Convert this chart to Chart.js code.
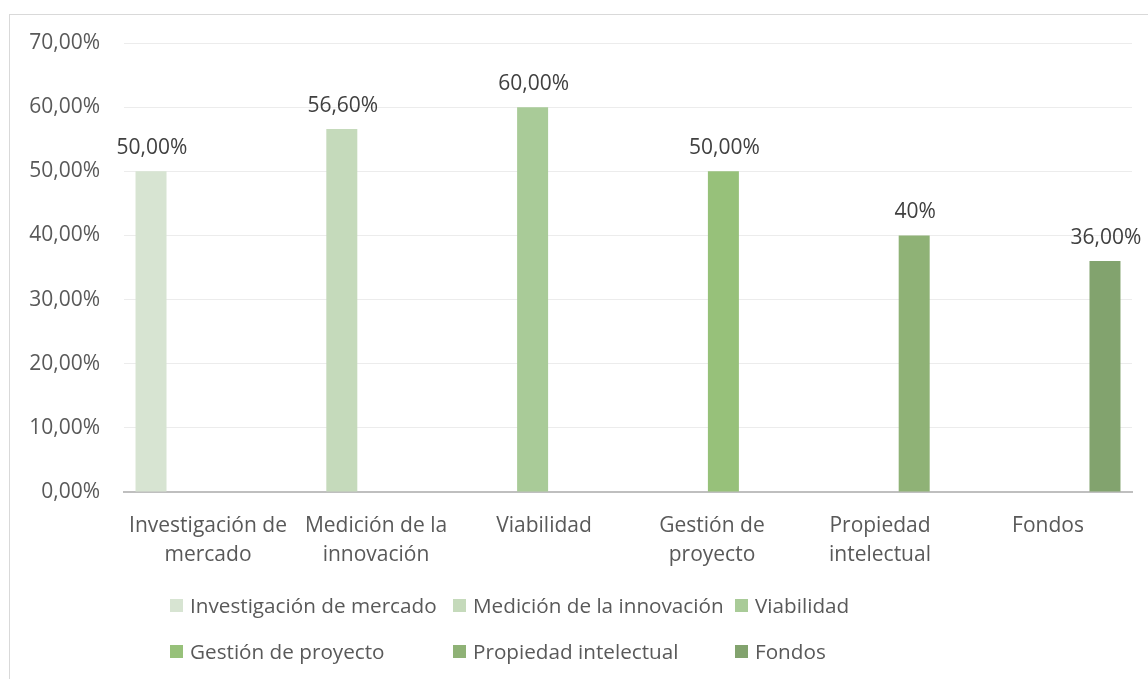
<!DOCTYPE html>
<html lang="es">
<head>
<meta charset="utf-8">
<title>Áreas de apoyo</title>
<script src="https://cdn.jsdelivr.net/npm/chart.js@4.4.1/dist/chart.umd.min.js"></script>
<style>
  html, body { margin: 0; padding: 0; background: #fff; overflow: hidden; }
  #wrap { position: relative; width: 1148px; height: 679px; }
  #frame {
    position: absolute; left: 9px; top: 14px; width: 1200px; height: 700px;
    border: 1px solid #d9d9d9; box-sizing: border-box; pointer-events: none;
  }
  #legend {
    position: absolute; left: 170px; top: 582px;
    display: grid; grid-template-columns: 283px 282px auto; grid-auto-rows: 46px;
    font-family: "Open Sans", sans-serif; font-size: 20.7px; color: #595959;
  }
  #legend .item { display: flex; align-items: center; white-space: nowrap; }
  #legend .box { width: 13px; height: 13px; margin-right: 7px; flex: none; }
</style>
</head>
<body>
<div id="wrap">
  <canvas id="barChart"></canvas>
  <div id="frame"></div>
  <div id="legend"></div>
</div>
<script>
const categories = [
  ['Investigación de', 'mercado'],
  ['Medición de la', 'innovación'],
  'Viabilidad',
  ['Gestión de', 'proyecto'],
  ['Propiedad', 'intelectual'],
  'Fondos'
];
const seriesNames = [
  'Investigación de mercado',
  'Medición de la innovación',
  'Viabilidad',
  'Gestión de proyecto',
  'Propiedad intelectual',
  'Fondos'
];
const seriesValues = [50, 56.6, 60, 50, 40, 36];
const labelDecimals = [2, 2, 2, 2, 0, 2];
const seriesColors = ['#d7e4d2', '#c5dabb', '#a9cb98', '#97c17a', '#8fb276', '#82a36e'];
const yMax = 70;
const yStep = 10;

const FONT_SIZE = 21;
const pct = (v, d) => v.toFixed(d).replace('.', ',') + '%';

// each series sits in its own slot of every group, only one value per series
const datasets = seriesNames.map((name, i) => ({
  label: name,
  data: categories.map((c, j) => (j === i ? seriesValues[i] : null)),
  backgroundColor: seriesColors[i],
  categoryPercentage: 0.814,
  barPercentage: 1.36
}));

const valueLabels = {
  id: 'valueLabels',
  afterDatasetsDraw(chart) {
    const ctx = chart.ctx;
    ctx.save();
    ctx.font = FONT_SIZE + 'px "Open Sans"';
    ctx.fillStyle = '#404040';
    ctx.textAlign = 'center';
    ctx.textBaseline = 'alphabetic';
    chart.data.datasets.forEach((ds, i) => {
      const meta = chart.getDatasetMeta(i);
      meta.data.forEach((bar, j) => {
        if (ds.data[j] == null) return;
        ctx.fillText(pct(ds.data[j], labelDecimals[i]), bar.x + 1, bar.y - 17);
      });
    });
    ctx.restore();
  }
};

const ctx = document.getElementById('barChart').getContext('2d');
const chart = new Chart(ctx, {
  type: 'bar',
  data: { labels: categories, datasets: datasets },
  options: {
    responsive: true,
    maintainAspectRatio: false,
    animation: false,
    layout: { padding: { top: 43, right: 16, left: 0, bottom: 0 } },
    plugins: {
      legend: { display: false },
      tooltip: { enabled: false }
    },
    scales: {
      x: {
        grid: { display: false },
        border: { color: '#bfbfbf', width: 2 },
        ticks: {
          color: '#595959',
          font: { family: 'Open Sans', size: FONT_SIZE, lineHeight: 1.36 },
          padding: 12,
          maxRotation: 0,
          autoSkip: false
        },
        afterFit: (axis) => { axis.height = 187; }
      },
      y: {
        min: 0,
        max: yMax,
        border: { display: false },
        grid: { color: '#ececec', lineWidth: 1, drawTicks: false },
        ticks: {
          stepSize: yStep,
          color: '#595959',
          font: { family: 'Open Sans', size: FONT_SIZE },
          padding: 24,
          callback: (v) => pct(v, 2)
        },
        afterFit: (axis) => { axis.width = 124; }
      }
    }
  },
  plugins: [valueLabels]
});

const legendEl = document.getElementById('legend');
seriesNames.forEach((name, i) => {
  const item = document.createElement('div');
  item.className = 'item';
  const box = document.createElement('span');
  box.className = 'box';
  box.style.background = seriesColors[i];
  item.appendChild(box);
  item.appendChild(document.createTextNode(name));
  legendEl.appendChild(item);
});
</script>
</body>
</html>
